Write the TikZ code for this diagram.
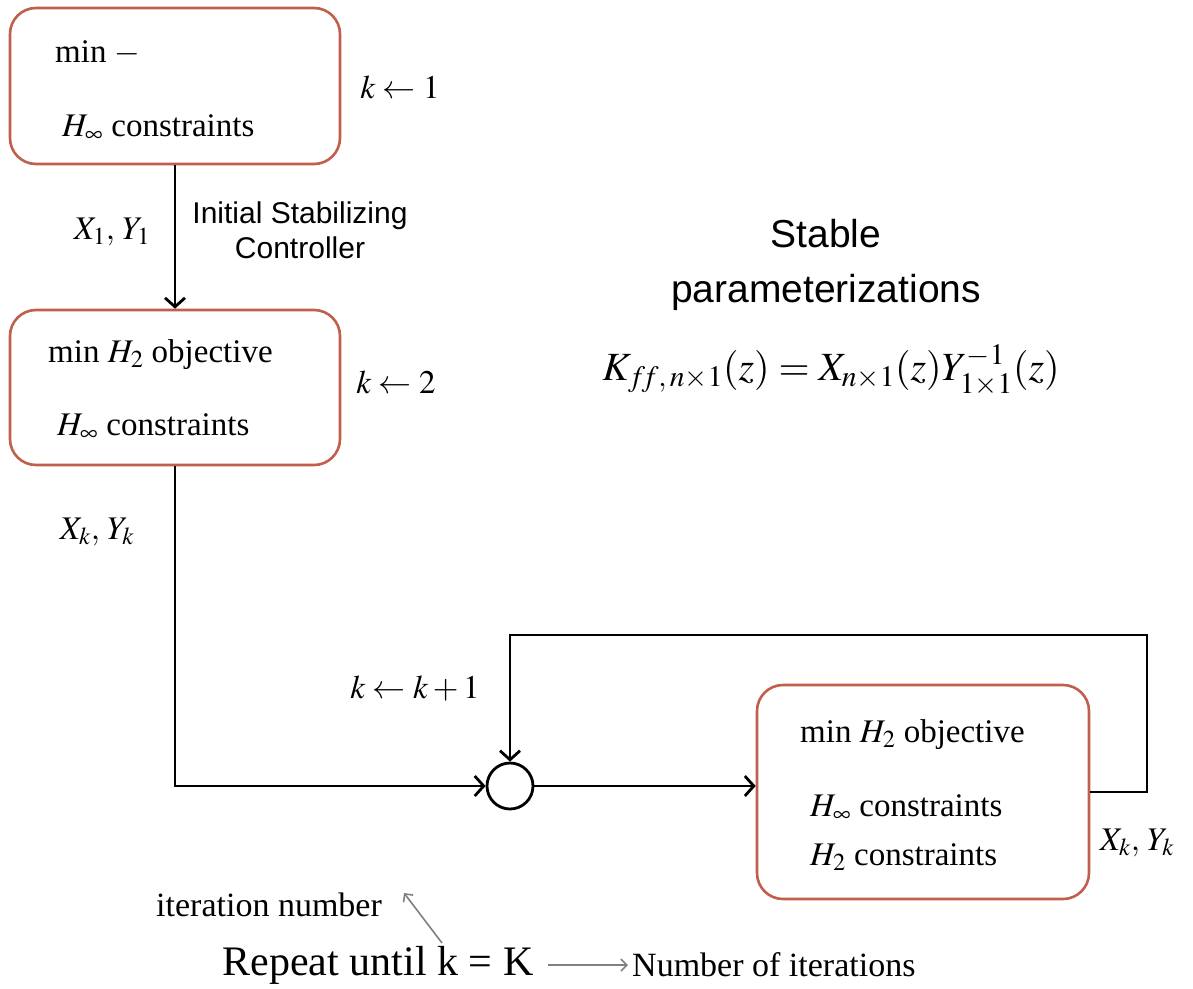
\documentclass[tikz,border=0pt]{standalone}
\usepackage{mathptmx}
\usepackage{fontspec}
\setmainfont{Liberation Serif}
\setsansfont{Liberation Sans}
\usetikzlibrary{arrows.meta}
\definecolor{boxred}{RGB}{192,96,76}
\definecolor{notegray}{RGB}{128,128,128}
\begin{document}
\begin{tikzpicture}[x=1pt, y=-1pt,
    blk/.style={draw=boxred, line width=2.6pt, rounded corners=26pt, fill=white},
    sumnode/.style={draw, circle, line width=2.8pt, minimum size=46pt, inner sep=0pt},
    conn/.style={line width=2.8pt, -{Straight Barb[length=9pt, width=20pt]}},
    note/.style={notegray, line width=1.6pt, -{Straight Barb[length=6pt, width=12pt]}},
    ser/.style={font=\fontsize{33}{40}\selectfont, inner sep=0pt},
    sans/.style={font=\sffamily\fontsize{30}{35}\selectfont, inner sep=0pt, align=center}]
    \useasboundingbox (0,0) rectangle (1193,988);

    % first step
    \node[blk, minimum width=330, minimum height=156] (init) at (175,86) {};
    \node[ser, anchor=west] (initmin) at (55,53) {min $-$};
    \node[ser, anchor=west] (initcon) at (62,128) {$H_\infty$ constraints};
    \node[ser] (kone) at (400,87) {$k \leftarrow 1$};

    % second step
    \node[blk, minimum width=330, minimum height=155] (iter2) at (175,387.5) {};
    \node[ser, anchor=west] (iter2obj) at (48,355) {min $H_2$ objective};
    \node[ser, anchor=west] (iter2con) at (57,427) {$H_\infty$ constraints};
    \node[ser] (ktwo) at (396,382) {$k \leftarrow 2$};

    \draw[conn] (init.south) -- (iter2.north);
    \node[ser] (xone) at (112,232) {$X_1,\,Y_1$};
    \node[sans] (isc) at (300,230) {Initial Stabilizing\\Controller};

    % loop
    \node[sumnode] (sum) at (510,786) {};
    \node[ser] (xkleft) at (97,532) {$X_k,\,Y_k$};
    \node[ser] (kinc) at (415,688) {$k \leftarrow k+1$};
    \draw[conn] (iter2.south) |- (sum.west);

    \node[blk, minimum width=332, minimum height=214] (iterk) at (923,792) {};
    \node[ser, anchor=west] (iterkobj) at (800,735) {min $H_2$ objective};
    \node[ser, anchor=west] (iterkcon) at (810,808) {$H_\infty$ constraints};
    \node[ser, anchor=west] (iterkhtwo) at (810,857) {$H_2$ constraints};

    \draw[conn] (sum.east) -- (sum.east -| iterk.west);
    \coordinate (loop) at (1147,635);
    \draw[conn] (iterk.east) -| (loop) -| (sum.north);
    \node[ser] (xkright) at (1137,843) {$X_k,\,Y_k$};

    % parameterization
    \node[sans, font=\sffamily\fontsize{39}{55}\selectfont] (stable) at (826,265) {Stable\\parameterizations};
    \node[ser, font=\fontsize{40}{48}\selectfont] (kff) at (831,370)
        {$K_{f\!f,\,n\times1}(z)=X_{n\times1}(z)Y^{-1}_{1\times1}(z)$};

    % stopping rule
    \node[ser, font=\fontsize{34}{40}\selectfont] (itnum) at (269,905) {iteration number};
    \node[ser, font=\fontsize{42}{48}\selectfont] (repeat) at (378,965) {Repeat until k = K};
    \node[ser, font=\fontsize{34}{40}\selectfont, anchor=west] (nits) at (632,965) {Number of iterations};
    \coordinate (ktop) at (442,943);
    \draw[note] (ktop) -- ([xshift=22pt, yshift=12pt]itnum.east);
    \draw[note] ([xshift=14pt]repeat.east) -- ([xshift=-4pt]nits.west);
\end{tikzpicture}
\end{document}
